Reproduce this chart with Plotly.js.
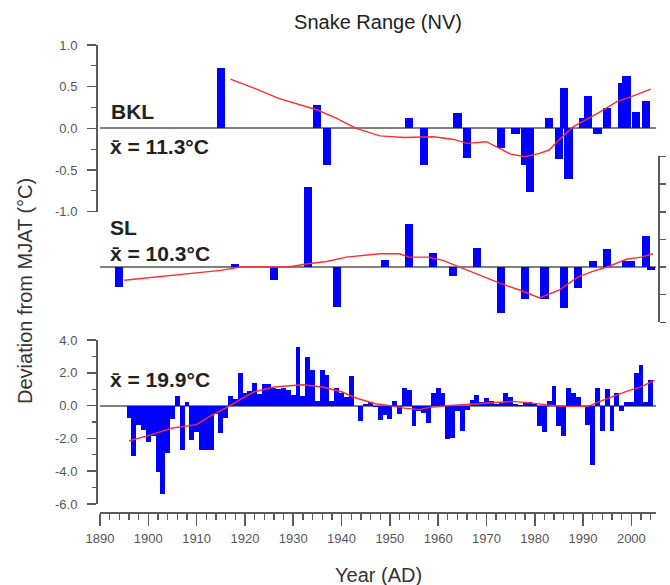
<!DOCTYPE html>
<html>
<head>
<meta charset="utf-8">
<script src="https://cdn.plot.ly/plotly-3.0.1.min.js"></script>
<style>html,body{margin:0;padding:0;background:#fff;}#chart{width:670px;height:585px;}</style>
</head>
<body>
<div id="chart"></div>
<script>
// ---- Bottom panel: station deviations from MJAT (annual) ----
const YEARS = [1896,1897,1898,1899,1900,1901,1902,1903,1904,1905,1906,1907,1908,1909,1910,1911,1912,1913,1914,1915,
1916,1917,1918,1919,1920,1921,1922,1923,1924,1925,1926,1927,1928,1929,1930,1931,1932,1933,1934,1935,
1936,1937,1938,1939,1940,1941,1942,1943,1944,1945,1946,1947,1948,1949,1950,1951,1952,1953,1954,1955,
1956,1957,1958,1959,1960,1961,1962,1963,1964,1965,1966,1967,1968,1969,1970,1971,1972,1973,1974,1975,
1976,1977,1978,1979,1980,1981,1982,1983,1984,1985,1986,1987,1988,1989,1990,1991,1992,1993,1994,1995,
1996,1997,1998,1999,2000,2001,2002,2003,2004];
const MJAT_DEV = [-0.75,-3.05,-1.16,-1.46,-2.24,-1.87,-4.06,-5.37,-2.9,-0.82,0.57,-2.7,0.2,-2.07,-1.6,-2.7,-2.7,-2.7,-0.5,-1.67,
-0.75,0.57,0.4,2.0,0.8,0.87,1.38,0.7,1.3,1.3,1.1,1.0,1.1,0.95,0.67,3.6,0.6,3.0,2.2,0.3,
2.2,1.9,0.3,1.1,0.8,0.5,1.8,-0.05,-0.96,0.1,0.2,-0.1,-0.87,-0.57,-0.8,0.3,-0.5,1.1,0.95,-1.26,
-0.3,-0.45,-1.06,0.8,1.08,0.8,-2.03,-1.98,-0.3,-1.57,-0.25,0.35,0.67,0.2,0.45,0.3,0.1,0.15,0.8,0.5,
0.1,0.05,0.2,0.2,0.1,-1.26,-1.63,0.3,1.18,-1.26,-1.83,1.08,0.77,0.55,-0.1,-1.16,-3.6,1.08,-1.56,1.0,
-1.56,0.77,-0.35,0.2,0.2,2.0,2.5,0.2,1.58];
const MJAT_SMOOTH_YEARS = [1896,1900,1905,1910,1913,1916,1919,1922,1926,1929,1932,1936,1940,1943,1947,1950,1953,1956,1958,1962,1965,1968,1971,1975,1978,1981,1985,1988,1991,1993,1996,1999,2002,2004.8];
const MJAT_SMOOTH = [-2.14,-1.83,-1.36,-1.16,-0.6,-0.15,0.37,0.85,1.14,1.22,1.28,1.14,0.85,0.47,0.12,0.0,-0.15,-0.24,-0.12,0.0,0.06,0.12,0.2,0.26,0.2,0.1,-0.03,-0.04,-0.04,0.2,0.53,0.87,1.15,1.54];

// ---- Top panel: BKL ----
const BKL_YEARS = [1915,1935,1937,1954,1957,1964,1966,1973,1976,1978,1979,1983,1985,1986,1987,1990,1991,1993,1995,1998,1999,2001,2003];
const BKL_DEV = [0.73,0.28,-0.44,0.13,-0.44,0.19,-0.35,-0.24,-0.07,-0.44,-0.76,0.13,-0.37,0.48,-0.61,0.13,0.39,-0.07,0.25,0.55,0.63,0.20,0.33];
const BKL_SMOOTH_YEARS = [1917,1922,1927,1931,1935,1939,1943,1948,1953,1959,1963,1966,1970,1972,1975,1978,1981,1983,1985,1988,1990,1993,1997,2000,2004];
const BKL_SMOOTH = [0.59,0.48,0.36,0.29,0.22,0.12,0.0,-0.09,-0.11,-0.1,-0.13,-0.18,-0.16,-0.22,-0.31,-0.34,-0.3,-0.26,-0.14,0.02,0.08,0.18,0.32,0.38,0.47];

// ---- Middle panel: SL ----
const SL_YEARS = [1894,1918,1926,1933,1939,1949,1954,1959,1963,1968,1973,1978,1982,1986,1989,1992,1995,1999,2000,2003,2004];
const SL_DEV = [-0.18,0.03,-0.12,0.72,-0.36,0.06,0.39,0.13,-0.08,0.17,-0.42,-0.29,-0.29,-0.37,-0.19,0.05,0.16,0.05,0.05,0.28,-0.03];
const SL_SMOOTH_YEARS = [1895,1902,1909,1915,1919,1925,1929,1933,1937,1941,1945,1948,1952,1954,1958,1961,1965,1969,1973,1977,1981,1985,1989,1992,1995,1999,2002,2004.5];
const SL_SMOOTH = [-0.12,-0.09,-0.06,-0.03,0.0,0.0,0.0,0.03,0.05,0.09,0.11,0.12,0.12,0.09,0.09,0.06,-0.01,-0.08,-0.15,-0.21,-0.28,-0.21,-0.09,-0.04,0.0,0.07,0.09,0.12];

// ---- Tick labels ----
const YEAR_TICKS = [1890,1900,1910,1920,1930,1940,1950,1960,1970,1980,1990,2000];
const YEAR_LABELS = ['1890','1900','1910','1920','1930','1940','1950','1960','1970','1980','1990','2000'];
const BKL_TICKS = [-1,-0.5,0,0.5,1];
const BKL_LABELS = ['-1.0','-0.5','0.0','0.5','1.0'];
const SL_TICKS = [-0.5,-0.25,0,0.25,0.5,0.75,1.0];
const MJAT_TICKS = [-6,-4,-2,0,2,4];
const MJAT_LABELS = ['-6.0','-4.0','-2.0','0.0','2.0','4.0'];

const BLUE = '#0000ff';
const RED = 'rgb(255,45,45)';
const AX = '#5a5a5a';

const traces = [
  {type:'bar', x:YEARS, y:MJAT_DEV, width:1, marker:{color:BLUE, line:{width:0}}, xaxis:'x', yaxis:'y'},
  {type:'scatter', mode:'lines', x:MJAT_SMOOTH_YEARS, y:MJAT_SMOOTH, line:{color:RED, width:1.4}, xaxis:'x', yaxis:'y'},
  {type:'bar', x:SL_YEARS, y:SL_DEV, width:1.7, marker:{color:BLUE, line:{width:0}}, xaxis:'x', yaxis:'y2'},
  {type:'scatter', mode:'lines', x:SL_SMOOTH_YEARS, y:SL_SMOOTH, line:{color:RED, width:1.4}, xaxis:'x', yaxis:'y2'},
  {type:'bar', x:BKL_YEARS, y:BKL_DEV, width:1.7, marker:{color:BLUE, line:{width:0}}, xaxis:'x', yaxis:'y3'},
  {type:'scatter', mode:'lines', x:BKL_SMOOTH_YEARS, y:BKL_SMOOTH, line:{color:RED, width:1.4}, xaxis:'x', yaxis:'y3'}
];

const yCommon = {
  showgrid:false, zeroline:true, zerolinecolor:'#808080', zerolinewidth:2,
  showline:true, linecolor:AX, linewidth:2,
  ticks:'outside', ticklen:9, tickwidth:1.5, tickcolor:AX, ticklabelstandoff:7,
  tickfont:{size:13, color:'#555'}, fixedrange:true
};

const layout = {
  width:670, height:585,
  margin:{l:100, r:14.3, t:40, b:72, pad:0},
  paper_bgcolor:'#ffffff', plot_bgcolor:'rgba(0,0,0,0)',
  showlegend:false, barmode:'overlay', bargap:0,
  font:{family:'"Liberation Sans", Arial, sans-serif', color:'#555', size:13},
  title:{text:'Snake Range (NV)', x:0.5, xref:'paper', xanchor:'center', y:1-22/585, yref:'container', yanchor:'middle',
         font:{size:20, color:'#222'}},
  xaxis:{range:[1890,2005.1], anchor:'free', position:0, showgrid:false, zeroline:false,
         showline:true, linecolor:AX, linewidth:2,
         tickmode:'array', tickvals:YEAR_TICKS, ticktext:YEAR_LABELS,
         ticks:'outside', ticklen:12, tickwidth:1.5, tickcolor:AX, ticklabelstandoff:1,
         minor:{dtick:2, tick0:1890, ticks:'outside', ticklen:6, tickwidth:1.3, tickcolor:AX},
         tickfont:{size:13, color:'#555'}, fixedrange:true},
  yaxis:Object.assign({}, yCommon, {domain:[0.019,0.3655], range:[-6,4], anchor:'free', position:0, shift:-3,
         tickmode:'array', tickvals:MJAT_TICKS, ticktext:MJAT_LABELS,
         minor:{dtick:1, tick0:0, ticks:'outside', ticklen:4, tickwidth:1.2, tickcolor:AX}}),
  yaxis2:Object.assign({}, yCommon, {domain:[0.4032,0.7537], range:[-0.5,1.0], anchor:'free', position:1, shift:3,
         side:'right', tickmode:'array', tickvals:SL_TICKS, showticklabels:false, ticklen:6}),
  yaxis3:Object.assign({}, yCommon, {domain:[0.637,0.9894], range:[-1,1], anchor:'free', position:0, shift:-3,
         tickmode:'array', tickvals:BKL_TICKS, ticktext:BKL_LABELS,
         minor:{dtick:0.25, tick0:0, ticks:'outside', ticklen:5, tickwidth:1.2, tickcolor:AX}}),
  annotations:[
    {text:'<b>BKL</b>', xref:'paper', yref:'paper', x:0.0162, y:(513-111)/473, xanchor:'left', yanchor:'middle', showarrow:false, font:{size:21, color:'#222'}},
    {text:'<b>x\u0304 = 11.3°C</b>', xref:'paper', yref:'paper', x:0.0144, y:(513-146)/473, xanchor:'left', yanchor:'middle', showarrow:false, font:{size:21, color:'#222'}},
    {text:'<b>SL</b>', xref:'paper', yref:'paper', x:0.0144, y:(513-227)/473, xanchor:'left', yanchor:'middle', showarrow:false, font:{size:21, color:'#222'}},
    {text:'<b>x\u0304 = 10.3°C</b>', xref:'paper', yref:'paper', x:0.0144, y:(513-253)/473, xanchor:'left', yanchor:'middle', showarrow:false, font:{size:21, color:'#222'}},
    {text:'<b>x\u0304 = 19.9°C</b>', xref:'paper', yref:'paper', x:0.0144, y:(513-380)/473, xanchor:'left', yanchor:'middle', showarrow:false, font:{size:21, color:'#222'}},
    {text:'Deviation from MJAT (°C)', xref:'paper', yref:'paper', x:(25-100)/555.7, y:(513-291)/473, xanchor:'center', yanchor:'middle', textangle:-90, showarrow:false, font:{size:20, color:'#333'}},
    {text:'Year (AD)', xref:'paper', yref:'paper', x:0.5, y:(513-575)/473, xanchor:'center', yanchor:'middle', showarrow:false, font:{size:20, color:'#333'}}
  ]
};

Plotly.newPlot('chart', traces, layout, {staticPlot:true, displayModeBar:false});
</script>
</body>
</html>
